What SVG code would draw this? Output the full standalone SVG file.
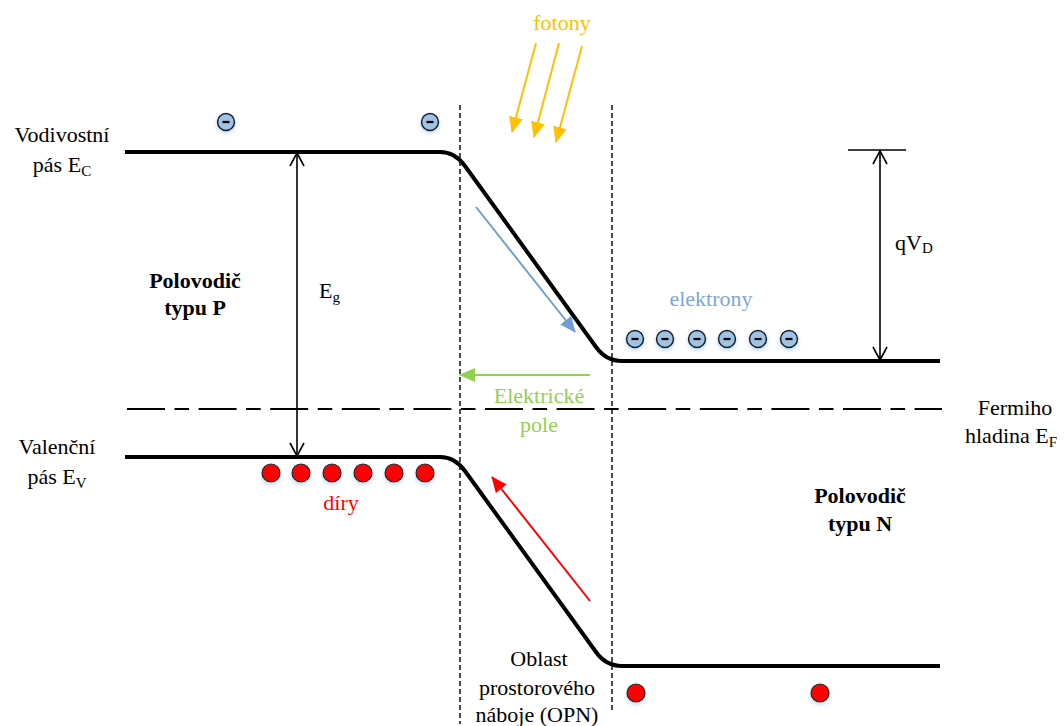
<svg xmlns="http://www.w3.org/2000/svg" width="1064" height="726" viewBox="0 0 1064 726">
<style>
.t{font-family:"Liberation Serif","Times New Roman",serif;font-size:22px}
.mid{text-anchor:middle}
.b{font-weight:bold}
.band{fill:none;stroke:#000;stroke-width:4;stroke-linejoin:round}
.vd{fill:none;stroke:#111;stroke-width:1.5;stroke-dasharray:5 3}
.fermi{fill:none;stroke:#000;stroke-width:2;stroke-dasharray:38 9.5 14.6 9.5}
.dim{fill:none;stroke:#000;stroke-width:1.6}
.el{fill:#9DC3E6;stroke:#1a1a1a;stroke-width:1.5}
.hole{fill:#FF0000;stroke:#1a1a1a;stroke-width:1.2}
.minus{stroke:#000;stroke-width:2.2}
.sub{font-size:15px}
</style>
<defs>
<filter id="glow" x="-50%" y="-50%" width="200%" height="200%">
<feDropShadow dx="0" dy="2" stdDeviation="2" flood-color="#9DC3E6" flood-opacity="0.7"/>
</filter>
<marker id="open" viewBox="0 0 16 16" refX="14" refY="8" markerWidth="16" markerHeight="16" markerUnits="userSpaceOnUse" orient="auto-start-reverse">
<path d="M1,1 L14,8 L1,15" fill="none" stroke="#000" stroke-width="1.6"/>
</marker>
<marker id="ay" viewBox="0 0 16 14" refX="15" refY="7" markerWidth="16" markerHeight="14" markerUnits="userSpaceOnUse" orient="auto">
<path d="M0,0 L16,7 L0,14 Z" fill="#FFC000"/>
</marker>
<marker id="ab" viewBox="0 0 16 14" refX="15" refY="7" markerWidth="16" markerHeight="14" markerUnits="userSpaceOnUse" orient="auto">
<path d="M0,0 L16,7 L0,14 Z" fill="#6F9FD6"/>
</marker>
<marker id="ag" viewBox="0 0 16 14" refX="15" refY="7" markerWidth="16" markerHeight="14" markerUnits="userSpaceOnUse" orient="auto">
<path d="M0,0 L16,7 L0,14 Z" fill="#92D050"/>
</marker>
<marker id="ar" viewBox="0 0 16 14" refX="15" refY="7" markerWidth="16" markerHeight="14" markerUnits="userSpaceOnUse" orient="auto">
<path d="M0,0 L16,7 L0,14 Z" fill="#FF0000"/>
</marker>
<g id="electron"><circle r="8.5" class="el" filter="url(#glow)"/><line x1="-3.5" y1="0" x2="3.5" y2="0" class="minus"/></g>
<circle id="holeShape" r="9" class="hole" filter="url(#glow)"/>
</defs>
<rect width="1064" height="726" fill="#fff"/>

<g id="bands">
<path id="conduction-band" class="band" d="M125,152 H440 Q455,152 465,166 L596,347 Q606,361 622,361 H940"/>
<path id="valence-band" class="band" d="M125,457 H440 Q455,457 465,471 L596,652 Q606,666 622,666 H940"/>
</g>

<g id="connectors">
<line x1="460" y1="105" x2="460" y2="724" class="vd"/>
<line x1="612" y1="105" x2="612" y2="712" class="vd"/>
<line x1="127" y1="409" x2="942" y2="409" class="fermi"/>
<line x1="297" y1="153" x2="297" y2="456" class="dim" marker-start="url(#open)" marker-end="url(#open)"/>
<line x1="848" y1="150" x2="906" y2="150" class="dim"/>
<line x1="880" y1="151" x2="880" y2="360" class="dim" marker-start="url(#open)" marker-end="url(#open)"/>
<line x1="536" y1="43" x2="512" y2="132" stroke="#FFC000" stroke-width="2" marker-end="url(#ay)"/>
<line x1="559" y1="43" x2="534" y2="137" stroke="#FFC000" stroke-width="2" marker-end="url(#ay)"/>
<line x1="582" y1="46" x2="556" y2="142" stroke="#FFC000" stroke-width="2" marker-end="url(#ay)"/>
<line x1="476" y1="207" x2="575" y2="332" stroke="#6F9FD6" stroke-width="2" marker-end="url(#ab)"/>
<line x1="590" y1="375" x2="460" y2="375" stroke="#92D050" stroke-width="2" marker-end="url(#ag)"/>
<line x1="590" y1="601" x2="492" y2="477" stroke="#FF0000" stroke-width="2" marker-end="url(#ar)"/>
</g>

<g id="electrons">
<use href="#electron" x="226" y="122"/>
<use href="#electron" x="430" y="122"/>
<use href="#electron" x="635" y="339"/>
<use href="#electron" x="665" y="339"/>
<use href="#electron" x="697" y="339"/>
<use href="#electron" x="727" y="339"/>
<use href="#electron" x="758" y="339"/>
<use href="#electron" x="789" y="339"/>
</g>

<g id="holes">
<use href="#holeShape" x="271" y="473"/>
<use href="#holeShape" x="301" y="473"/>
<use href="#holeShape" x="332" y="473"/>
<use href="#holeShape" x="363" y="473"/>
<use href="#holeShape" x="394" y="473"/>
<use href="#holeShape" x="425" y="473"/>
<use href="#holeShape" x="636" y="693"/>
<use href="#holeShape" x="820" y="693"/>
</g>

<g id="labels" class="t" fill="#000">
<text x="62" y="142" class="mid">Vodivostní</text>
<text x="62" y="172" class="mid">pás E<tspan class="sub" dy="4">C</tspan></text>
<text x="57" y="454" class="mid">Valenční</text>
<text x="57" y="484" class="mid">pás E<tspan class="sub" dy="4">V</tspan></text>
<text x="195" y="288" class="mid b">Polovodič</text>
<text x="195" y="315" class="mid b">typu P</text>
<text x="319" y="298">E<tspan class="sub" dy="4">g</tspan></text>
<text x="895" y="250">qV<tspan class="sub" dy="3">D</tspan></text>
<text x="562" y="30" class="mid" fill="#FFC000">fotony</text>
<text x="711" y="306" class="mid" fill="#7BA7D8">elektrony</text>
<text x="539" y="403" class="mid" fill="#92D050">Elektrické</text>
<text x="539" y="432" class="mid" fill="#92D050">pole</text>
<text x="1015" y="415" class="mid">Fermiho</text>
<text x="965" y="443">hladina E<tspan class="sub" dy="4">F</tspan></text>
<text x="341" y="510" class="mid" fill="#FF0000">díry</text>
<text x="860" y="503" class="mid b">Polovodič</text>
<text x="860" y="531" class="mid b">typu N</text>
<text x="539" y="666" class="mid">Oblast</text>
<text x="537" y="695" class="mid">prostorového</text>
<text x="537" y="722" class="mid">náboje (OPN)</text>
</g>
</svg>
